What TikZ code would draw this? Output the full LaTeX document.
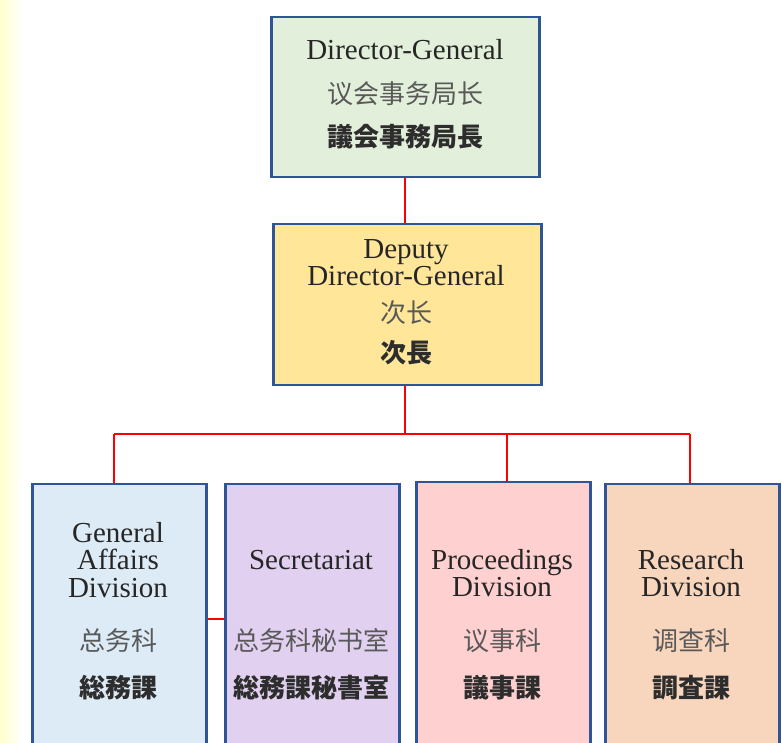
\documentclass[tikz,border=0pt]{standalone}
\usepackage{fontspec}
\setmainfont{Liberation Serif}
\newfontfamily\cjksc{Noto Sans CJK SC}
\newfontfamily\cjkjp{Noto Sans CJK JP}
\definecolor{boxline}{RGB}{47,85,151}
\definecolor{dgfill}{RGB}{226,239,218}
\definecolor{ddgfill}{RGB}{255,230,153}
\definecolor{gafill}{RGB}{221,235,247}
\definecolor{secfill}{RGB}{225,208,240}
\definecolor{procfill}{RGB}{255,208,208}
\definecolor{resfill}{RGB}{248,213,189}
\definecolor{entext}{RGB}{38,38,38}
\definecolor{sctext}{RGB}{89,89,89}
\definecolor{jptext}{RGB}{45,45,45}
\definecolor{leftyellow}{RGB}{255,255,205}
\tikzset{
  orgbox/.style={rectangle, draw=boxline, line width=2.5pt, anchor=north west, inner sep=0pt},
  entxt/.style={font=\fontsize{29}{29}\selectfont, text=entext, anchor=base, inner sep=0pt, text height=0.68em, text depth=0.2em},
  sctxt/.style={font=\cjksc\fontsize{26}{26}\selectfont, text=sctext, anchor=center, inner sep=0pt},
  jptxt/.style={font=\cjkjp\bfseries\fontsize{26}{26}\selectfont, text=jptext, anchor=center, inner sep=0pt},
  conn/.style={draw=red, line width=2pt}
}
\begin{document}
\begin{tikzpicture}[x=1pt,y=1pt]
\useasboundingbox (0,0) rectangle (782,742);
\clip (0,0) rectangle (782,742);
\fill[white] (0,0) rectangle (782,742);
\shade[left color=leftyellow, right color=white] (0,0) rectangle (22,742);

% boxes
\node[orgbox, fill=dgfill, minimum width=268pt, minimum height=160pt] (dg) at (270,726) {};
\node[orgbox, fill=ddgfill, minimum width=268pt, minimum height=161pt] (ddg) at (272,519) {};
\node[orgbox, fill=gafill, minimum width=174pt, minimum height=280pt] (ga) at (31,259) {};
\node[orgbox, fill=secfill, minimum width=174pt, minimum height=280pt] (sec) at (224,259) {};
\node[orgbox, fill=procfill, minimum width=174pt, minimum height=282pt] (proc) at (415,261) {};
\node[orgbox, fill=resfill, minimum width=174pt, minimum height=280pt] (res) at (604,259) {};

% connectors
\coordinate (top) at (405,0);
\coordinate (bus) at (405,308);
\coordinate (busl) at (114,308);
\coordinate (busp) at (507,308);
\coordinate (busr) at (690,308);
\coordinate (gsy) at (0,123);
\draw[conn] (top |- dg.south) -- (top |- ddg.north);
\draw[conn] (top |- ddg.south) -- (bus);
\draw[conn] (busl) -- (busr);
\draw[conn] (busl) -- (busl |- ga.north);
\draw[conn] (busp) -- (busp |- proc.north);
\draw[conn] (busr) -- (busr |- res.north);
\draw[conn] (ga.east |- gsy) -- (sec.west |- gsy);

% Director-General
\node[entxt] (dg1) at (405,682) {Director-General};
\node[sctxt] (dg2) at (405,648.5) {议会事务局长};
\node[jptxt] (dg3) at (405,605) {議会事務局長};

% Deputy Director-General
\node[entxt] (ddg1) at (406,483) {Deputy};
\node[entxt] (ddg2) at (406,456) {Director-General};
\node[sctxt] (ddg3) at (406,429) {次长};
\node[jptxt] (ddg4) at (406,389) {次長};

% General Affairs Division
\node[entxt] (ga1) at (118,199.5) {General};
\node[entxt] (ga2) at (118,172) {Affairs};
\node[entxt] (ga3) at (118,144) {Division};
\node[sctxt] (ga4) at (118,101) {总务科};
\node[jptxt] (ga5) at (118,54) {総務課};

% Secretariat
\node[entxt] (sec1) at (311,172) {Secretariat};
\node[sctxt] (sec2) at (311,101) {总务科秘书室};
\node[jptxt] (sec3) at (311,54) {総務課秘書室};

% Proceedings Division
\node[entxt] (pr1) at (502,172) {Proceedings};
\node[entxt] (pr2) at (502,145) {Division};
\node[sctxt] (pr3) at (502,101) {议事科};
\node[jptxt] (pr4) at (502,54) {議事課};

% Research Division
\node[entxt] (rs1) at (691,172) {Research};
\node[entxt] (rs2) at (691,145) {Division};
\node[sctxt] (rs3) at (691,101) {调查科};
\node[jptxt] (rs4) at (691,54) {調査課};
\end{tikzpicture}
\end{document}
